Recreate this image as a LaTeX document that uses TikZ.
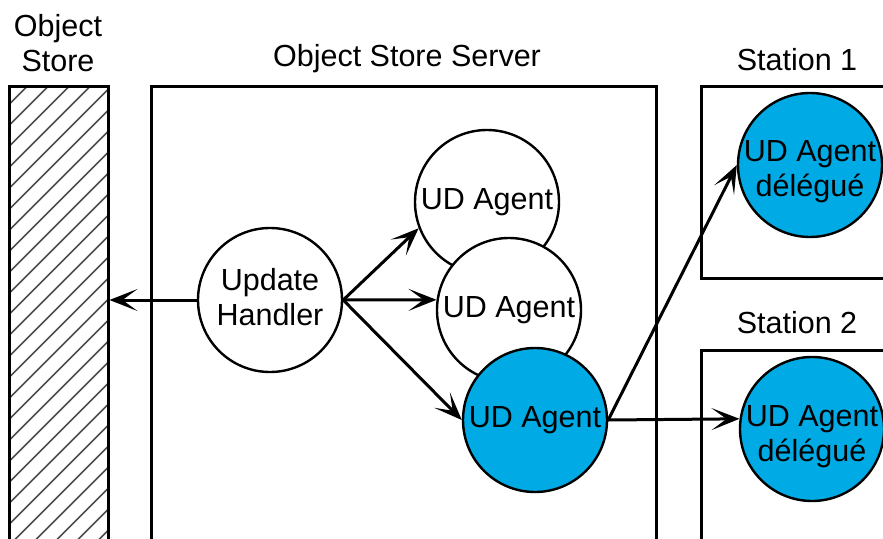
\documentclass[tikz,border=0pt]{standalone}
\usepackage{fontspec}
\setmainfont{Liberation Sans}
\usetikzlibrary{arrows.meta}
\definecolor{udblue}{RGB}{0,170,228}
\begin{document}
\begin{tikzpicture}[x=1pt,y=-1pt,
  box/.style={draw, line width=2.5pt, inner sep=0pt, anchor=north west},
  agent/.style={circle, draw, line width=2.4pt, minimum size=144pt, inner sep=0pt,
    fill=white, align=center, font=\fontsize{30.5}{35}\selectfont},
  deleg/.style={agent, fill=udblue},
  lbl/.style={align=center, font=\fontsize{30.5}{35}\selectfont, inner sep=0pt},
  conn/.style={line width=3pt, -{Stealth[length=28pt,width=22pt,inset=15pt]}}]
\useasboundingbox (0,0) rectangle (883,538);
\clip (0,0) rectangle (883,538);

% Object store (hatched)
\node[box, minimum width=99pt, minimum height=480pt,
  path picture={
    \foreach \i in {-26,...,6}
      \draw[black!70, line width=1.6pt]
        ([xshift=\i*21pt]path picture bounding box.south west) -- ++(620pt,620pt);
  }] (store) at (8,85) {};
\node[lbl] (lstore) at (58,43) {Object\\Store};

% Object store server
\node[box, minimum width=505pt, minimum height=480pt] (server) at (150,85) {};
\node[lbl] (lserver) at (407,59) {Object Store Server};

% Stations
\node[box, minimum width=220pt, minimum height=192pt] (st1) at (700,85) {};
\node[lbl] (lst1) at (797,60) {Station 1};
\node[box, minimum width=220pt, minimum height=250pt] (st2) at (700,349) {};
\node[lbl] (lst2) at (797,323) {Station 2};

% circles
\node[agent] (uh) at (270,300) {};
\node[lbl] (uht) at (270,297) {Update\\Handler};
\node[agent] (a1) at (487,202) {UD Agent};
\node[agent] (a2) at (509,310) {UD Agent};
\node[deleg] (a3) at (535,420) {UD Agent};
\node[deleg] (d1) at (810,165) {};
\node[lbl] (d1t) at (810,172) {UD Agent\\délégué};
\node[deleg] (d2) at (812,429) {};
\node[lbl] (d2t) at (812,437) {UD Agent\\délégué};

% connectors
\draw[conn] (uh.west) -- (uh.west -| store.east);
\draw[conn] (uh.east) -- (a1.201);
\draw[conn] (uh.east) -- (a2.172);
\draw[conn] (uh.east) -- (a3.west);
\draw[conn] (a3.east) -- (d1.west);
\draw[conn] (a3.east) -- (d2.172);
\end{tikzpicture}
\end{document}
